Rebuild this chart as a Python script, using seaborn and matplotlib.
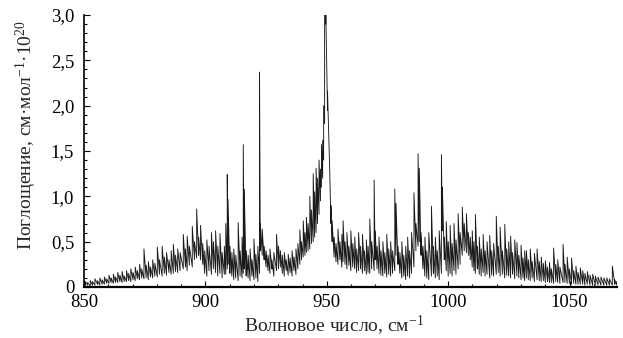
import matplotlib
matplotlib.use("Agg")
import matplotlib.pyplot as plt
import numpy as np
import pandas as pd
import seaborn as sns
from matplotlib.ticker import MultipleLocator

# absorption lines: position (cm^-1), peak height, valley before the line
wn_low = [850.6, 851.5, 852.6, 853.5, 854.5, 855.6, 856.5, 857.5, 858.4, 859.4,
          860.3, 861.2, 862.1, 863.0, 863.9, 864.8, 865.7, 866.6, 867.5, 868.4,
          869.3, 870.2, 871.1, 872.0, 872.9, 873.8, 874.7, 875.6, 876.5, 877.4,
          878.3, 879.2, 880.2, 881.1, 882.2, 883.1, 884.0, 885.0, 885.9, 886.8,
          887.7, 888.6, 889.6, 890.9, 891.8, 892.5, 893.4, 894.6, 895.5, 896.4,
          897.2, 898.0, 898.9, 899.7, 900.6, 901.5, 902.5, 903.3, 904.2, 905.1,
          906.0, 906.9, 907.8]
top_low = [.06, .05, .07, .06, .09, .07, .10, .08, .11, .09,
           .13, .10, .14, .11, .16, .13, .17, .12, .18, .15,
           .20, .16, .22, .18, .25, .20, .42, .24, .28, .22,
           .30, .26, .44, .30, .45, .33, .38, .30, .40, .47,
           .35, .42, .38, .58, .42, .56, .45, .67, .50, .86,
           .55, .68, .48, .40, .52, .45, .60, .50, .62, .45,
           .59, .38, .45]
val_low = [.01, .02, .01, .02, .02, .03, .02, .03, .03, .04,
           .04, .05, .04, .05, .05, .06, .05, .06, .06, .07,
           .06, .08, .07, .09, .08, .10, .09, .10, .08, .11,
           .10, .12, .11, .14, .12, .15, .13, .16, .14, .15,
           .17, .16, .18, .20, .22, .18, .24, .22, .30, .32,
           .35, .30, .25, .15, .12, .18, .14, .20, .16, .12,
           .15, .10, .14]

wn_mid = [908.4, 909.0, 909.3, 910.1, 910.9, 911.7, 912.5, 913.5, 914.3, 915.1,
          915.6, 916.0, 916.8, 917.6, 918.4, 919.2, 920.0, 920.8, 921.6, 922.3,
          922.6, 923.4, 924.2, 925.0, 925.8, 926.6, 927.4, 928.2, 929.3, 930.1,
          930.9, 931.7, 932.5, 933.3, 934.1, 934.9, 935.7, 936.5, 937.3, 938.1,
          938.9, 939.6, 940.3, 941.0, 941.6, 942.3, 943.0, 943.7, 944.4, 945.0,
          945.6, 946.2, 946.8, 947.4, 947.8, 948.3, 948.7, 949.1, 949.6, 950.3,
          951.2, 951.7, 952.2]
top_mid = [.70, 1.24, .97, .45, .38, .42, .35, .71, .40, .55,
           1.57, 1.08, .40, .35, .42, .30, .53, .36, .45, 2.37,
           .70, .64, .45, .40, .35, .42, .30, .38, .58, .45,
           .40, .35, .38, .30, .36, .32, .40, .33, .42, .48,
           .63, .50, .73, .60, .77, .70, 1.00, .85, 1.25, 1.05,
           1.31, 1.20, 1.40, 1.30, 1.57, 1.62, 2.00, 3.00, 3.00, 2.16,
           1.29, .90, .73]
val_mid = [.14, .20, .25, .15, .12, .08, .10, .07, .12, .10,
           .15, .20, .12, .10, .07, .12, .08, .10, .06, .15,
           .40, .35, .30, .22, .18, .15, .20, .12, .18, .20,
           .22, .15, .12, .18, .13, .16, .12, .18, .14, .20,
           .25, .30, .33, .35, .38, .40, .42, .48, .50, .55,
           .60, .70, .80, .95, 1.10, 1.20, 1.40, 1.80, 2.90, 1.95,
           1.30, .70, .50]

wn_high = [953.0, 953.8, 954.6, 955.4, 956.2, 956.7, 957.5, 958.3, 959.1, 959.9,
           960.7, 961.5, 962.3, 963.1, 963.9, 964.7, 965.5, 966.3, 967.0, 967.7,
           968.5, 969.5, 969.9, 970.7, 971.5, 972.3, 973.1, 973.9, 974.7, 975.5,
           976.3, 977.1, 978.0, 978.5, 979.3, 980.1, 980.9, 981.7, 982.5, 983.3,
           984.1, 984.9, 985.9, 986.7, 987.6, 988.1, 988.8, 989.6, 990.4, 991.2,
           992.0, 993.1, 993.9, 994.7, 995.5, 996.3, 997.2, 997.6, 998.4, 999.2,
           1000.0, 1000.8, 1001.6, 1002.4, 1003.2, 1004.1, 1004.9, 1005.8, 1006.6, 1007.5,
           1008.3, 1009.1, 1009.9, 1010.6, 1011.2, 1012.0, 1012.8, 1013.6, 1014.4, 1015.2,
           1016.0, 1017.1, 1017.9, 1018.7, 1019.8, 1020.6, 1021.4, 1022.3, 1023.3, 1024.1,
           1024.9, 1025.7, 1026.5, 1027.4, 1028.3, 1029.1, 1030.0, 1030.8, 1031.5, 1032.2,
           1033.0, 1033.8, 1034.6, 1035.5, 1036.6, 1037.5, 1038.3, 1039.2, 1040.0, 1040.9,
           1041.7, 1042.5, 1043.4, 1044.3, 1045.1, 1046.0, 1047.3, 1048.1, 1049.0, 1049.9,
           1050.8, 1051.7, 1052.6, 1053.5, 1054.4, 1055.4, 1056.3, 1057.3, 1058.4, 1059.5,
           1060.6, 1061.7, 1062.9, 1064.1, 1065.3, 1066.4, 1067.6, 1068.6, 1069.4]
top_high = [.55, .48, .64, .50, .58, .73, .50, .60, .45, .62,
            .48, .55, .42, .60, .45, .58, .40, .52, .45, .75,
            .50, 1.18, .62, .45, .55, .40, .50, .38, .58, .42,
            .50, .40, 1.08, .92, .45, .38, .50, .35, .45, .55,
            .40, .60, 1.04, .70, 1.47, 1.31, .60, .45, .55, .40,
            .60, .89, .45, .55, .40, .62, 1.46, 1.10, .55, .72,
            .50, .68, .48, .70, .52, .81, .60, .88, .70, .81,
            .60, .55, .62, .50, .80, .45, .55, .42, .58, .40,
            .50, .57, .40, .48, .78, .45, .66, .40, .69, .42,
            .50, .56, .38, .52, .49, .35, .46, .32, .40, .40,
            .30, .42, .28, .37, .42, .28, .33, .26, .29, .22,
            .27, .20, .43, .25, .30, .22, .47, .25, .33, .20,
            .32, .18, .23, .16, .21, .18, .15, .17, .13, .14,
            .12, .11, .11, .10, .10, .09, .23, .08, .06]
val_high = [.33, .28, .25, .30, .22, .28, .25, .20, .24, .18,
            .22, .20, .16, .18, .20, .15, .18, .14, .16, .15,
            .20, .18, .30, .20, .15, .13, .12, .15, .11, .14,
            .12, .15, .18, .35, .25, .15, .10, .12, .08, .12,
            .10, .15, .22, .40, .45, .50, .35, .20, .12, .10,
            .08, .12, .15, .10, .12, .08, .15, .62, .30, .18,
            .12, .15, .12, .18, .14, .20, .25, .35, .40, .38,
            .35, .30, .22, .18, .15, .20, .14, .12, .16, .12,
            .14, .10, .13, .12, .14, .16, .12, .14, .10, .13,
            .12, .10, .14, .09, .12, .10, .08, .10, .07, .10,
            .08, .07, .10, .06, .08, .07, .06, .07, .05, .06,
            .05, .05, .04, .06, .05, .04, .05, .05, .04, .04,
            .03, .04, .03, .03, .03, .03, .02, .03, .02, .02,
            .02, .02, .02, .02, .02, .02, .02, .03, .02]

yticks = [0, 0.5, 1.0, 1.5, 2.0, 2.5, 3.0]
ytick_labels = ["0", "0,5", "1,0", "1,5", "2,0", "2,5", "3,0"]
xticks = [850, 900, 950, 1000, 1050]

sns.set_style("ticks")
plt.rcParams["font.family"] = ["Liberation Serif", "DejaVu Serif"]
plt.rcParams["mathtext.fontset"] = "custom"
plt.rcParams["mathtext.rm"] = "Liberation Serif"
plt.rcParams["mathtext.it"] = "Liberation Serif:italic"

wn = np.concatenate([wn_low, wn_mid, wn_high])
top = np.concatenate([top_low, top_mid, top_high])
val = np.concatenate([val_low, val_mid, val_high])

# sawtooth trace: valley -> peak for every line
trace = pd.DataFrame({
    "wn": np.repeat(wn, 2),
    "absorb": np.column_stack([val, top]).ravel(),
})

fig = plt.figure(figsize=(6.23, 3.38), dpi=100)
ax = fig.add_axes([0.1348, 0.1509, 0.8555, 0.8047])
sns.lineplot(data=trace, x="wn", y="absorb", sort=False, estimator=None,
             color="#1a1a1a", lw=0.65, ax=ax)

ax.set_xlim(850, 1069.5)
ax.set_ylim(0, 3.0)
ax.set_xticks(xticks)
ax.set_yticks(yticks)
ax.set_yticklabels(ytick_labels)
ax.xaxis.set_minor_locator(MultipleLocator(10))
ax.yaxis.set_minor_locator(MultipleLocator(0.1))
ax.tick_params(which="both", direction="in", colors="black", width=0.8, labelsize=13.5)
ax.tick_params(which="major", length=4)
ax.tick_params(which="minor", length=2.5)
ax.tick_params(axis="y", pad=7)
ax.tick_params(axis="x", pad=5)

for s in ["top", "right"]:
    ax.spines[s].set_visible(False)
ax.spines["bottom"].set_linewidth(1.6)
ax.spines["left"].set_linewidth(1.2)
ax.spines["bottom"].set_color("black")
ax.spines["left"].set_color("black")

ax.set_xlabel("Волновое число, см$^{-1}$", fontsize=14)
ax.set_ylabel("Поглощение, см·мол$^{-1}$·10$^{20}$", fontsize=14)
ax.xaxis.set_label_coords(0.47, -0.10)
ax.yaxis.set_label_coords(-0.085, 0.56)

fig.savefig("out.png", dpi=100)
